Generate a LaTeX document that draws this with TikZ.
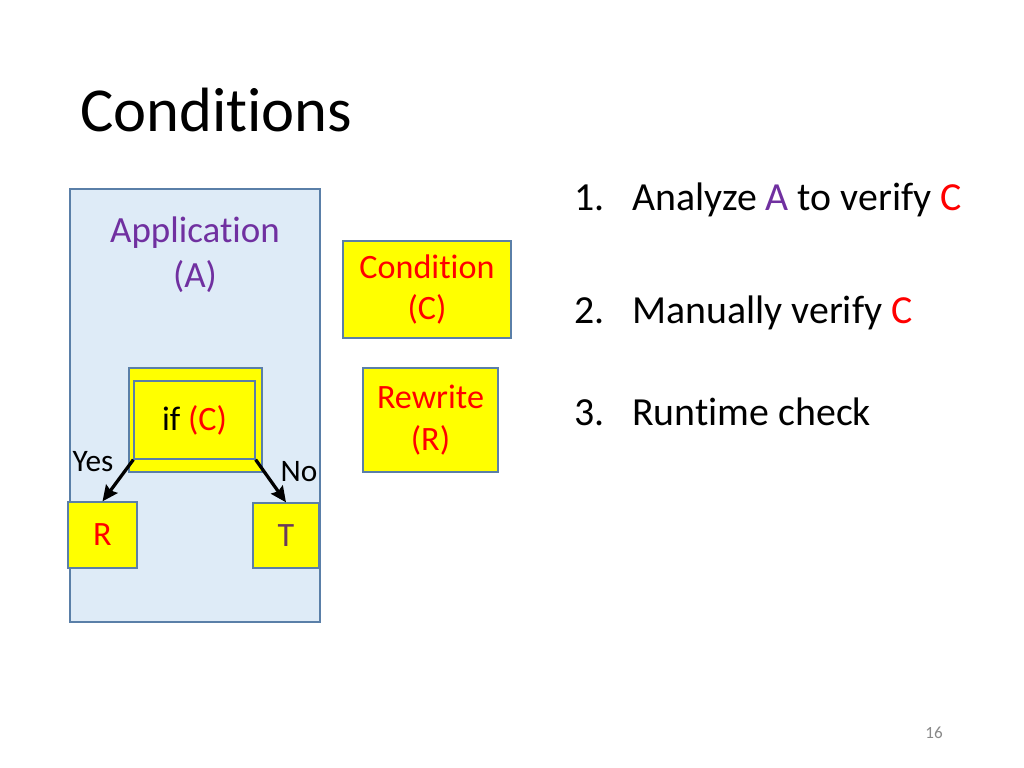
\documentclass[tikz,border=0pt]{standalone}
\usepackage{fontspec}
\setmainfont{Carlito}[Ligatures={NoCommon}]
\usetikzlibrary{arrows.meta}
\definecolor{appfill}{HTML}{DEEBF7}
\definecolor{boxline}{HTML}{5A7FA8}
\definecolor{ylw}{HTML}{FFFF00}
\definecolor{purp}{HTML}{7030A0}
\definecolor{rd}{HTML}{FF0000}
\definecolor{tcol}{HTML}{6B3A5C}
\definecolor{pnum}{HTML}{898989}
\newcommand{\pxl}[1]{#1*0.703125pt}
\begin{document}
\begin{tikzpicture}[x=0.703125pt,y=-0.703125pt,
  ybox/.style={draw=boxline, fill=ylw, line width=0.9pt, inner sep=0pt, align=center},
  abox/.style={draw=boxline, fill=appfill, line width=0.9pt, inner sep=0pt},
  txt/.style={inner sep=0pt, align=center},
  arr/.style={-{Stealth[length=11pt,width=10pt,inset=1.5pt]}, line width=2.3pt, shorten >=0pt}]
\useasboundingbox (0,0) rectangle (1024,768);
\fill[white] (0,0) rectangle (1024,768);
% title
\node[txt, anchor=base west, font=\fontsize{44pt}{52pt}\selectfont] (title) at (80,132) {Conditions};
% application box
\node[abox, minimum width=\pxl{250}, minimum height=\pxl{433}] (app) at (195,405.5) {};
\node[txt, text=purp, font=\fontsize{26pt}{31.6pt}\selectfont] (apptext) at (195,255) {Application\\(A)};
% if boxes
\node[ybox, minimum width=\pxl{133}, minimum height=\pxl{104}] (ifout) at (195.5,420) {};
\node[ybox, minimum width=\pxl{121}, minimum height=\pxl{78}, font=\fontsize{24pt}{29.5pt}\selectfont] (ifin) at (194.5,420) {if \textcolor{rd}{(C)}};
% R and T
\node[ybox, minimum width=\pxl{69}, minimum height=\pxl{66}, text=rd, font=\fontsize{24pt}{29.5pt}\selectfont] (rbox) at (102.5,535) {R};
\node[ybox, minimum width=\pxl{66}, minimum height=\pxl{65}, text=tcol, font=\fontsize{24pt}{29.5pt}\selectfont] (tbox) at (286,535.5) {T};
% arrows
\draw[arr] (ifin.south west) -- (rbox.north);
\draw[arr] (ifin.south east) -- (tbox.north);
\node[txt, font=\fontsize{22pt}{26pt}\selectfont] (yes) at (93,462) {Yes};
\node[txt, font=\fontsize{22pt}{26pt}\selectfont] (no) at (299,472) {No};
% condition and rewrite
\node[ybox, minimum width=\pxl{168}, minimum height=\pxl{97}, text=rd, font=\fontsize{24pt}{29.5pt}\selectfont] (cond) at (427,289.5) {Condition\\(C)};
\node[ybox, minimum width=\pxl{135}, minimum height=\pxl{104}, text=rd, font=\fontsize{24pt}{29.5pt}\selectfont] (rewr) at (430.5,420) {Rewrite\\(R)};
% list
\begin{scope}[every node/.style={txt, anchor=base west, font=\fontsize{28pt}{34pt}\selectfont}]
\node (n1) at (574,211) {1.};
\node (l1) at (632,211) {Analyze \textcolor{purp}{A} to verify \textcolor{rd}{C}};
\node (n2) at (574,323) {2.};
\node (l2) at (632,323) {Manually verify \textcolor{rd}{C}};
\node (n3) at (574,425) {3.};
\node (l3) at (632,425) {Runtime check};
\end{scope}
% page number
\node[txt, text=pnum, font=\fontsize{12pt}{14pt}\selectfont] (pg) at (934,733) {16};
\end{tikzpicture}
\end{document}
